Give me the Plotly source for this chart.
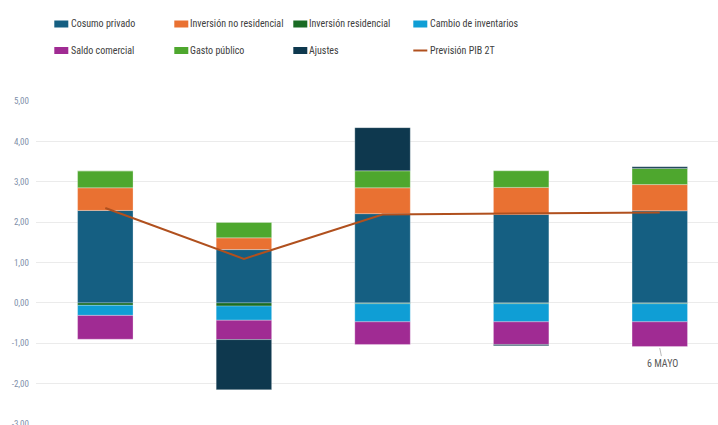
import plotly.graph_objects as go

categories = ["Est. 1", "Est. 2", "Est. 3", "Est. 4", "Est. 5"]
consumo_privado = [2.29, 1.32, 2.21, 2.19, 2.28]
inversion_no_residencial = [0.56, 0.29, 0.64, 0.67, 0.65]
inversion_residencial = [-0.06, -0.08, -0.02, -0.02, -0.02]
cambio_inventarios = [-0.25, -0.35, -0.45, -0.45, -0.45]
saldo_comercial = [-0.59, -0.48, -0.56, -0.56, -0.61]
gasto_publico = [0.42, 0.38, 0.42, 0.41, 0.40]
ajustes = [0.0, -1.24, 1.07, -0.03, 0.04]
prevision_pib_2t = [2.35, 1.09, 2.19, 2.21, 2.24]

y_ticks = [-3, -2, -1, 0, 1, 2, 3, 4, 5]
y_tick_labels = ["-3,00", "-2,00", "-1,00", "0,00", "1,00", "2,00", "3,00", "4,00", "5,00"]

FONT = "Liberation Sans Narrow, Roboto Condensed, Arial Narrow, Liberation Sans, sans-serif"

W, H = 718, 425
ML, MR, MT, MB = 36, 0, 101, 1
PW, PH = W - ML - MR, H - MT - MB

bar_series = [
    ("Cosumo privado", consumo_privado, "#155f82"),
    ("Inversión no residencial", inversion_no_residencial, "#e97132"),
    ("Inversión residencial", inversion_residencial, "#196b24"),
    ("Cambio de inventarios", cambio_inventarios, "#0f9ed5"),
    ("Saldo comercial", saldo_comercial, "#a02b93"),
    ("Gasto público", gasto_publico, "#4ea72e"),
    ("Ajustes", ajustes, "#0e384e"),
]
line_name, line_color = "Previsión PIB 2T", "#b0501e"

fig = go.Figure()
for name, vals, color in bar_series:
    fig.add_trace(go.Bar(
        x=categories, y=vals, name=name, showlegend=False,
        marker=dict(color=color, line=dict(color="rgba(255,255,255,0.35)", width=0.8)),
        hoverinfo="name+y",
    ))

fig.add_trace(go.Scatter(
    x=categories, y=prevision_pib_2t, name=line_name, showlegend=False,
    mode="lines", line=dict(color=line_color, width=2),
))

fig.add_annotation(
    x=categories[4], y=-1.12, text="6 MAYO", showarrow=True, arrowhead=0,
    arrowcolor="#a6a6a6", arrowwidth=0.8, ax=3, ay=15,
    font=dict(family=FONT, size=10, color="#595959"),
)

# custom legend (4 columns x 2 rows)
def px(x):
    return (x - ML) / PW

def py(y):
    return (H - MB - y) / PH

col_swatch_x = [54.3, 174.3, 293.3, 413.3]
col_text_x = [70, 189.3, 308.3, 429]
row_y = [24, 50.5]
entries = [(n, c, "bar") for n, _, c in bar_series] + [(line_name, line_color, "line")]
for i, (name, color, kind) in enumerate(entries):
    r, c = divmod(i, 4)
    x0 = col_swatch_x[c]
    yc = row_y[r]
    if kind == "bar":
        fig.add_shape(type="rect", xref="paper", yref="paper",
                      x0=px(x0), x1=px(x0 + 14), y0=py(yc - 3.5), y1=py(yc + 3.5),
                      fillcolor=color, line=dict(width=0))
    else:
        fig.add_shape(type="line", xref="paper", yref="paper",
                      x0=px(x0), x1=px(x0 + 14), y0=py(yc), y1=py(yc),
                      line=dict(color=color, width=2))
    fig.add_annotation(x=px(col_text_x[c] - 1), y=py(yc), xref="paper", yref="paper",
                       text=name, showarrow=False, xanchor="left", yanchor="middle",
                       font=dict(family=FONT, size=10, color="#404040"))

fig.update_layout(
    width=W, height=H,
    margin=dict(l=ML, r=MR, t=MT, b=MB, autoexpand=False),
    paper_bgcolor="white", plot_bgcolor="white",
    barmode="relative", bargap=0.6,
    showlegend=False,
    xaxis=dict(range=[-0.5, 4.42], showticklabels=False, showgrid=False,
               zeroline=False, showline=False, ticks="", automargin=False),
    yaxis=dict(range=[-3, 5], tickvals=y_ticks, ticktext=y_tick_labels,
               tickfont=dict(family=FONT, size=9, color="#7f8faa"),
               showgrid=True, gridcolor="#ebebeb", gridwidth=1,
               zeroline=True, zerolinecolor="#ebebeb", zerolinewidth=1,
               showline=False, ticks="", ticklabelstandoff=6,
               ticklabeloverflow="allow", automargin=False),
)

fig.write_html("out.html")
